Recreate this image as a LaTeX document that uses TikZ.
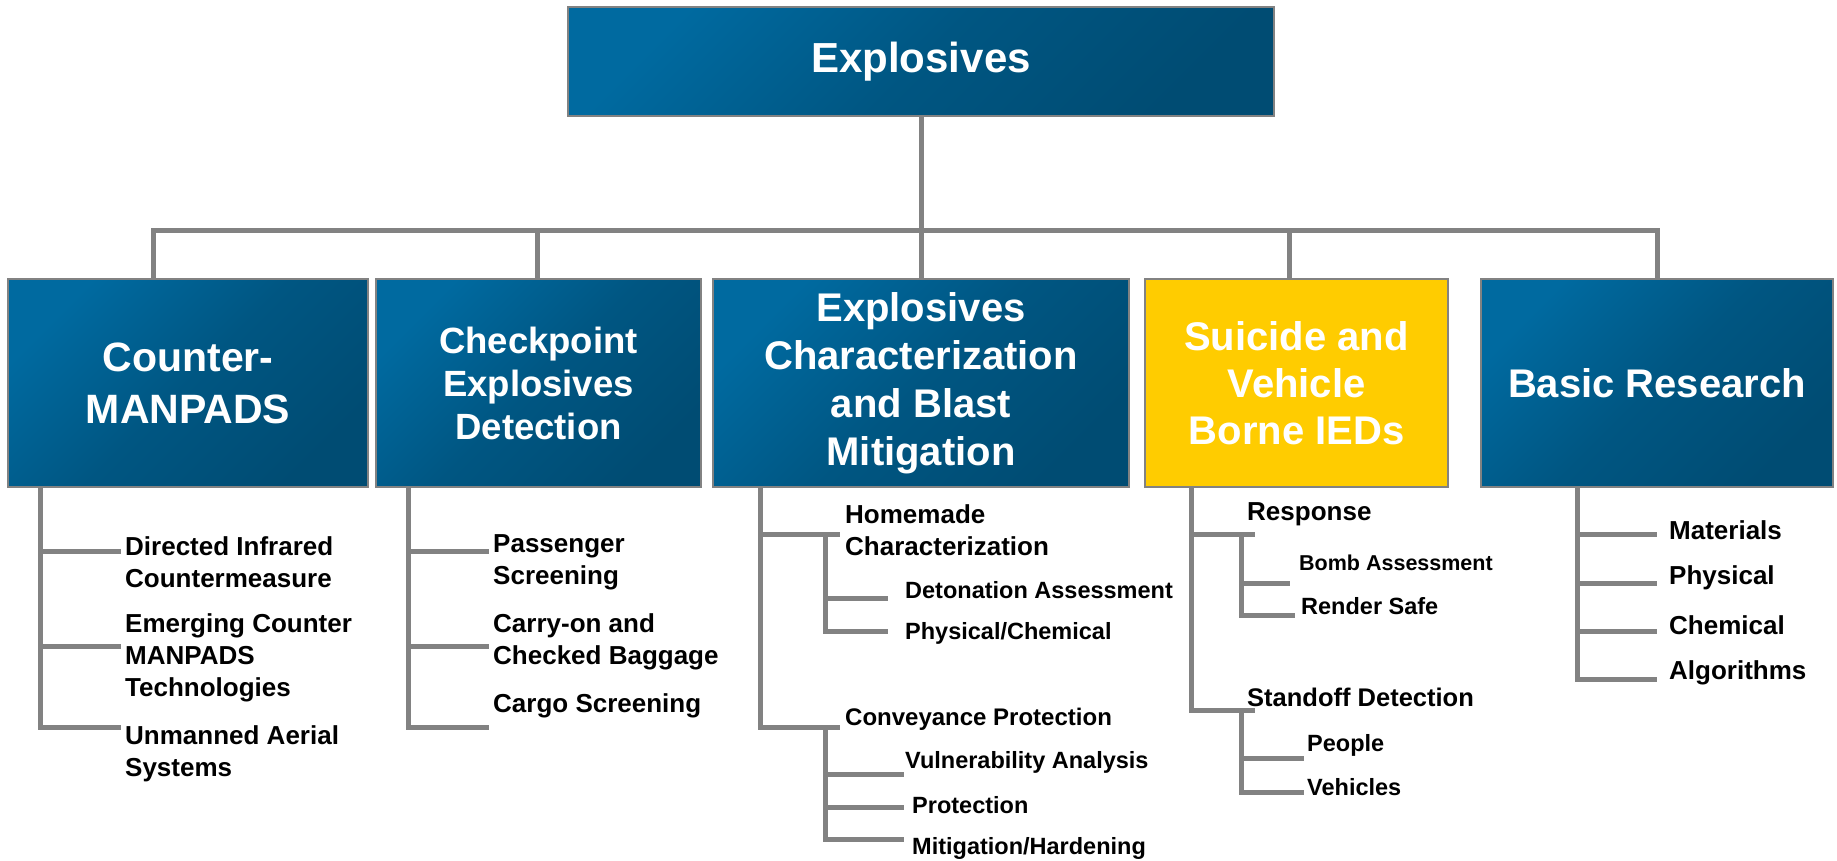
\documentclass[tikz,border=0pt]{standalone}
\usepackage{fontspec}
\setmainfont{Liberation Sans}
\definecolor{boxlight}{RGB}{0,106,160}
\definecolor{boxmid}{RGB}{0,86,130}
\definecolor{boxdark}{RGB}{0,76,115}
\definecolor{boxyellow}{RGB}{255,204,0}
\definecolor{linegray}{RGB}{130,130,130}

\begin{document}
\begin{tikzpicture}[x=1pt,y=-1pt,
  conn/.style={draw=linegray, line width=5pt},
  box/.style={draw=linegray, line width=2pt, rectangle, inner sep=0pt,
    align=center, text=white, minimum height=208pt},
  bluebox/.style={box, top color=boxlight, bottom color=boxdark,
    middle color=boxmid, shading angle=45},
  yellowbox/.style={box, fill=boxyellow},
  leaf/.style={anchor=west, inner sep=0pt, align=left,
    font={\bfseries\fontsize{26}{32}\selectfont}},
  subleaf/.style={leaf, font={\bfseries\fontsize{23.5}{28}\selectfont}}
]
\useasboundingbox (0,0) rectangle (1837,860);

% ---------- top level ----------
\node[bluebox, minimum width=706pt, minimum height=109pt,
  font={\bfseries\fontsize{42}{50}\selectfont}] (root) at (921,61.5) {Explosives};

% ---------- second level ----------
\node[bluebox, minimum width=360pt, font={\bfseries\fontsize{41}{52}\selectfont}]
  (b1) at (188,383) {Counter-\\MANPADS};
\node[bluebox, minimum width=325pt, font={\bfseries\fontsize{36.5}{43}\selectfont}]
  (b2) at (538.5,383) {Checkpoint\\Explosives\\Detection};
\node[bluebox, minimum width=416pt, font={\bfseries\fontsize{40}{48}\selectfont}]
  (b3) at (921,383) {Explosives\\Characterization\\and Blast\\Mitigation};
\node[yellowbox, minimum width=303pt, font={\bfseries\fontsize{40}{47}\selectfont}]
  (b4) at (1296.5,383) {Suicide and\\Vehicle\\Borne IEDs};
\node[bluebox, minimum width=352pt, font={\bfseries\fontsize{40}{48}\selectfont}]
  (b5) at (1657,383) {Basic Research};

% ---------- bus from the root to the second level ----------
\coordinate (d1) at (153,230);
\coordinate (d2) at (537,230);
\coordinate (d3) at (921,230);
\coordinate (d4) at (1289,230);
\coordinate (d5) at (1657,230);
\draw[conn] (root.south) -- (root.south |- d3);
\draw[conn, line cap=rect] (d1) -- (d5);
\foreach \i in {1,...,5} \draw[conn] (d\i) -- (d\i |- b\i.north);

% ---------- Counter-MANPADS ----------
\coordinate (s1) at ([xshift=33pt]b1.south west);
\node[leaf] (l11) at (125,562) {Directed Infrared\\Countermeasure};
\node[leaf] (l12) at (125,658) {Emerging Counter\\MANPADS\\Technologies};
\node[leaf] (l13) at (125,753.5) {Unmanned Aerial\\Systems};
\coordinate (e11) at (121,551);
\coordinate (e12) at (121,646);
\coordinate (e13) at (121,727);
\foreach \j in {1,2,3} \draw[conn] (s1) |- (e1\j);

% ---------- Checkpoint Explosives Detection ----------
\coordinate (s2) at ([xshift=33pt]b2.south west);
\node[leaf] (l21) at (493,562) {Passenger\\Screening};
\node[leaf] (l22) at (493,642) {Carry-on and\\Checked Baggage};
\node[leaf] (l23) at (493,706) {Cargo Screening};
\coordinate (e21) at (489,551);
\coordinate (e22) at (489,646);
\coordinate (e23) at (489,727);
\foreach \j in {1,2,3} \draw[conn] (s2) |- (e2\j);

% ---------- Explosives Characterization and Blast Mitigation ----------
\coordinate (s3) at ([xshift=48pt]b3.south west);
\node[leaf] (l31) at (845,530) {Homemade\\Characterization};
\node[subleaf] (l311) at (905,590) {Detonation Assessment};
\node[subleaf] (l312) at (905,633) {Physical/Chemical};
\node[leaf, font={\bfseries\fontsize{24}{29}\selectfont}] (l32) at (845,719) {Conveyance Protection};
\node[subleaf] (l321) at (905,762) {Vulnerability Analysis};
\node[subleaf] (l322) at (912,805) {Protection};
\node[subleaf] (l323) at (912,848) {Mitigation/Hardening};
\coordinate (e31) at (840,534);
\coordinate (e32) at (840,727);
\draw[conn] (s3) |- (e31);
\draw[conn] (s3) |- (e32);
\coordinate (s31) at (825,534);
\coordinate (e311) at (888,598);
\coordinate (e312) at (888,631);
\draw[conn] (s31) |- (e311);
\draw[conn] (s31) |- (e312);
\coordinate (s32) at (825,727);
\coordinate (e321) at (904,774);
\coordinate (e322) at (904,807);
\coordinate (e323) at (904,839);
\foreach \j in {1,2,3} \draw[conn] (s32) |- (e32\j);

% ---------- Suicide and Vehicle Borne IEDs ----------
\coordinate (s4) at ([xshift=47pt]b4.south west);
\node[leaf] (l41) at (1247,514) {Response};
\node[leaf, font={\bfseries\fontsize{21.5}{26}\selectfont}] (l411) at (1299,563) {Bomb Assessment};
\node[subleaf] (l412) at (1301,606) {Render Safe};
\node[leaf, font={\bfseries\fontsize{25.5}{31}\selectfont}] (l42) at (1247,697) {Standoff Detection};
\node[subleaf] (l421) at (1307,745) {People};
\node[subleaf] (l422) at (1307,787) {Vehicles};
\coordinate (e41) at (1255,534);
\coordinate (e42) at (1255,710);
\draw[conn] (s4) |- (e41);
\draw[conn] (s4) |- (e42);
\coordinate (s41) at (1241,534);
\coordinate (e411) at (1290,583);
\coordinate (e412) at (1295,615);
\draw[conn] (s41) |- (e411);
\draw[conn] (s41) |- (e412);
\coordinate (s42) at (1241,710);
\coordinate (e421) at (1304,758);
\coordinate (e422) at (1304,792);
\draw[conn] (s42) |- (e421);
\draw[conn] (s42) |- (e422);

% ---------- Basic Research ----------
\coordinate (s5) at ([xshift=97pt]b5.south west);
\node[leaf] (l51) at (1669,530) {Materials};
\node[leaf] (l52) at (1669,578) {Physical};
\node[leaf] (l53) at (1669,625) {Chemical};
\node[leaf] (l54) at (1669,673) {Algorithms};
\coordinate (e51) at (1657,534);
\coordinate (e52) at (1657,583);
\coordinate (e53) at (1657,631);
\coordinate (e54) at (1657,679);
\foreach \j in {1,...,4} \draw[conn] (s5) |- (e5\j);
\end{tikzpicture}
\end{document}
